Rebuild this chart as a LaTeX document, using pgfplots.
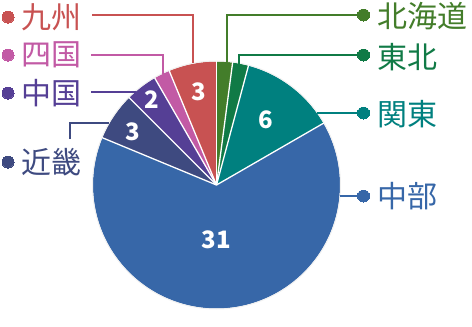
\documentclass[border=0pt]{standalone}
\usepackage{fontspec}
\setmainfont{Noto Sans CJK JP}
\usepackage{pgfplots}
\pgfplotsset{compat=1.18}
\definecolor{hok}{HTML}{437D2A}
\definecolor{toh}{HTML}{107A46}
\definecolor{kan}{HTML}{00807F}
\definecolor{chu}{HTML}{3767A8}
\definecolor{kin}{HTML}{3E4A80}
\definecolor{chg}{HTML}{553F95}
\definecolor{shi}{HTML}{C25AA5}
\definecolor{kyu}{HTML}{C85252}
\begin{document}
\begin{tikzpicture}
\begin{axis}[width=472pt,height=312pt,scale only axis,xmin=0,xmax=472,ymin=0,ymax=312,
  y dir=reverse,hide axis,clip=false]
\addplot[draw=none] coordinates {(0,0) (472,312)};
\pgfplotsextra{
  \gdef\cum{0}
  \foreach \v/\c in {1/hok,1/toh,6/kan,31/chu,3/kin,2/chg,1/shi,3/kyu}{
    \pgfmathsetmacro\a{90-\cum*7.5}
    \pgfmathsetmacro\b{90-(\cum+\v)*7.5}
    \fill[\c] (axis cs:216.5,185) -- ++(\a:123.5pt) arc[start angle=\a,end angle=\b,radius=123.5pt] -- cycle;
    \pgfmathsetmacro\n{\cum+\v}
    \xdef\cum{\n}
  }
  \draw[color=black!6,line width=1pt] (axis cs:216.5,185) circle[radius=124pt];
  \foreach \a in {90,82.5,75,30,157.5,135,120,112.5}{
    \draw[white,line width=1.3pt] (axis cs:216.5,185) -- ++(\a:124pt);
  }
}
% leader lines
\addplot[kyu,line width=1.4pt] coordinates {(92,15) (193,15) (193,63)};
\addplot[shi,line width=1.4pt] coordinates {(91,55) (163,55) (163,74)};
\addplot[chg,line width=1.4pt] coordinates {(91,92) (136,92)};
\addplot[kin,line width=1.4pt] coordinates {(70,139) (70,123) (109,123)};
\addplot[hok,line width=1.4pt] coordinates {(227,62) (227,15) (363,15)};
\addplot[toh,line width=1.4pt] coordinates {(239,65) (239,55) (363,55)};
\addplot[kan,line width=1.4pt] coordinates {(317,113) (363,113)};
\addplot[chu,line width=1.4pt] coordinates {(340,196) (363,196)};
% dots
\pgfplotsset{dot/.style={only marks,mark=*,mark size=6pt,mark options={line width=0pt}}}
\addplot[dot,kyu] coordinates {(8,17)};
\addplot[dot,shi] coordinates {(8,55)};
\addplot[dot,chg] coordinates {(8,93)};
\addplot[dot,kin] coordinates {(8,162)};
\addplot[dot,hok] coordinates {(363.5,15)};
\addplot[dot,toh] coordinates {(363.5,55)};
\addplot[dot,kan] coordinates {(363.5,113)};
\addplot[dot,chu] coordinates {(363.5,196)};
% labels
\begin{scope}[every node/.style={inner sep=0pt,anchor=west,font=\fontsize{30}{30}\selectfont}]
\node[text=kyu] at (axis cs:21,17) {九州};
\node[text=shi] at (axis cs:21,55) {四国};
\node[text=chg] at (axis cs:21,93) {中国};
\node[text=kin] at (axis cs:21,162) {近畿};
\node[text=hok] at (axis cs:377,16) {北海道};
\node[text=toh] at (axis cs:377,57) {東北};
\node[text=kan] at (axis cs:377,114) {関東};
\node[text=chu] at (axis cs:377,196) {中部};
\end{scope}
\begin{scope}[every node/.style={inner sep=0pt,text=white,font=\fontsize{24}{24}\selectfont\bfseries}]
\node at (axis cs:199,92) {3};
\node at (axis cs:152,100) {2};
\node at (axis cs:133,132) {3};
\node at (axis cs:266,120) {6};
\node at (axis cs:216,240) {31};
\end{scope}
\end{axis}
\end{tikzpicture}
\end{document}
